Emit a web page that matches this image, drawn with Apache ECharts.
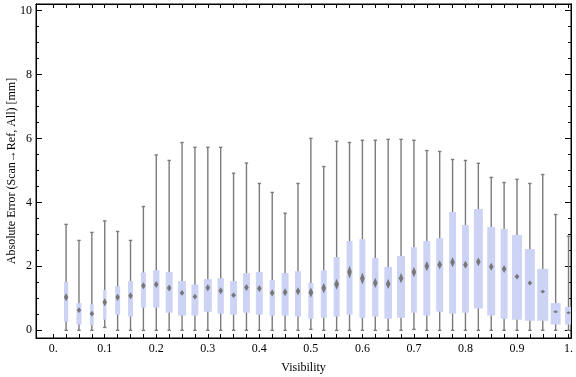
<!DOCTYPE html>
<html>
<head>
<meta charset="utf-8">
<script src="https://cdn.jsdelivr.net/npm/echarts@6/dist/echarts.min.js"></script>
<style>
  html, body { margin: 0; padding: 0; background: #fff; overflow: hidden; }
  #chart { width: 576px; height: 377px; }
</style>
</head>
<body>
<div id="chart"></div>
<script>
// box positions on the visibility axis
const visibility = [0.025, 0.05, 0.075, 0.1, 0.125, 0.15, 0.175, 0.2, 0.225, 0.25,
  0.275, 0.3, 0.325, 0.35, 0.375, 0.4, 0.425, 0.45, 0.475, 0.5,
  0.525, 0.55, 0.575, 0.6, 0.625, 0.65, 0.675, 0.7, 0.725, 0.75,
  0.775, 0.8, 0.825, 0.85, 0.875, 0.9, 0.925, 0.95, 0.975, 1.0];

const whiskerLow = [0, 0, 0, 0.09, 0, 0, 0, 0, 0, 0,
  0, 0, 0, 0, 0, 0, 0, 0, 0, 0.03,
  0, 0, 0, 0, 0, 0, 0, 0.03, 0, 0,
  0, 0, 0, 0, 0, 0, 0, 0, 0, 0];
const q1 = [0.27, 0.18, 0.16, 0.33, 0.49, 0.43, 0.71, 0.71, 0.55, 0.46,
  0.46, 0.58, 0.52, 0.49, 0.55, 0.49, 0.46, 0.46, 0.43, 0.36,
  0.39, 0.43, 0.49, 0.39, 0.43, 0.36, 0.39, 0.55, 0.46, 0.58,
  0.52, 0.55, 0.68, 0.46, 0.36, 0.33, 0.30, 0.30, 0.18, 0.18];
const median = [1.03, 0.63, 0.52, 0.88, 1.03, 1.08, 1.39, 1.43, 1.32, 1.17,
  1.05, 1.33, 1.24, 1.10, 1.34, 1.31, 1.17, 1.19, 1.22, 1.18,
  1.32, 1.44, 1.82, 1.62, 1.48, 1.45, 1.63, 1.82, 2.01, 2.05,
  2.13, 2.05, 2.14, 1.99, 1.92, 1.68, 1.48, 1.21, 0.58, 0.55];
const q3 = [1.51, 0.85, 0.82, 1.26, 1.38, 1.54, 1.81, 1.88, 1.82, 1.54,
  1.43, 1.60, 1.63, 1.54, 1.79, 1.82, 1.57, 1.79, 1.85, 1.48,
  1.88, 2.29, 2.79, 2.85, 2.26, 1.98, 2.32, 2.60, 2.79, 2.88,
  3.70, 3.29, 3.79, 3.23, 3.17, 2.98, 2.54, 1.92, 0.85, 0.73];
const whiskerHigh = [3.31, 2.81, 3.06, 3.42, 3.09, 2.81, 3.87, 5.48, 5.31, 5.87,
  5.72, 5.72, 5.72, 4.91, 5.23, 4.59, 4.31, 3.66, 4.59, 6.00,
  5.12, 5.91, 5.87, 5.94, 5.94, 5.97, 5.97, 5.94, 5.62, 5.59,
  5.34, 5.31, 5.22, 4.78, 4.62, 4.72, 4.59, 4.87, 3.62, 2.94];
// relative sample weight (box width as share of the bin)
const weight = [0.33, 0.39, 0.29, 0.26, 0.39, 0.39, 0.39, 0.49, 0.54, 0.62,
  0.54, 0.62, 0.49, 0.54, 0.54, 0.54, 0.41, 0.54, 0.46, 0.39,
  0.46, 0.46, 0.46, 0.46, 0.49, 0.59, 0.62, 0.46, 0.54, 0.54,
  0.54, 0.54, 0.70, 0.62, 0.54, 0.77, 0.77, 0.85, 0.77, 0.54];
// half height of the median diamond (mm)
const medianCI = [0.125, 0.09, 0.09, 0.125, 0.11, 0.11, 0.11, 0.11, 0.11, 0.09,
  0.09, 0.11, 0.11, 0.09, 0.11, 0.11, 0.11, 0.125, 0.125, 0.16,
  0.16, 0.17, 0.2, 0.19, 0.16, 0.16, 0.16, 0.16, 0.16, 0.14,
  0.16, 0.125, 0.14, 0.125, 0.125, 0.09, 0.08, 0.06, 0.05, 0.05];

const xLabels = [0, 0.1, 0.2, 0.3, 0.4, 0.5, 0.6, 0.7, 0.8, 0.9, 1];
const xTicks = [0].concat(visibility);
const yLabels = [0, 2, 4, 6, 8, 10];
const yMinor = [0, 0.5, 1, 1.5, 2, 2.5, 3, 3.5, 4, 4.5, 5, 5.5, 6, 6.5, 7, 7.5, 8, 8.5, 9, 9.5, 10];

const FONT = "'Liberation Serif', 'Times New Roman', serif";
const X_MIN = -0.0334, X_MAX = 1.0048;
const Y_MIN = -0.24, Y_MAX = 10.2;

const boxData = visibility.map((v, i) =>
  [v, whiskerLow[i], q1[i], median[i], q3[i], whiskerHigh[i], weight[i], medianCI[i]]);

function renderBox(params, api) {
  const x = api.value(0);
  const pLo = api.coord([x, api.value(1)]);
  const pQ1 = api.coord([x, api.value(2)]);
  const pMed = api.coord([x, api.value(3)]);
  const pQ3 = api.coord([x, api.value(4)]);
  const pHi = api.coord([x, api.value(5)]);
  const w = api.size([api.value(6) * 0.025, 0])[0];
  const dh = api.size([0, api.value(7)])[1];
  const cx = pLo[0];
  const cap = 1.7;
  const ls = { stroke: '#7b7b7b', lineWidth: 1.4 };
  return {
    type: 'group',
    children: [
      { type: 'line', shape: { x1: cx, y1: pLo[1], x2: cx, y2: pHi[1] }, style: ls },
      { type: 'line', shape: { x1: cx - cap, y1: pLo[1], x2: cx + cap, y2: pLo[1] }, style: ls },
      { type: 'line', shape: { x1: cx - cap, y1: pHi[1], x2: cx + cap, y2: pHi[1] }, style: ls },
      { type: 'rect', shape: { x: cx - w / 2, y: pQ3[1], width: w, height: pQ1[1] - pQ3[1] },
        style: { fill: '#ccd3f5' } },
      { type: 'polygon',
        shape: { points: [[cx, pMed[1] - dh], [cx + 2.3, pMed[1]], [cx, pMed[1] + dh], [cx - 2.3, pMed[1]]] },
        style: { fill: '#777777' } }
    ]
  };
}

function xAxisOf(pos, withLabels) {
  return {
    type: 'value', position: pos, min: X_MIN, max: X_MAX,
    axisLine: { show: true, onZero: false, lineStyle: { color: '#000', width: 1 } },
    axisTick: { show: true, inside: true, length: 4, customValues: xTicks,
      lineStyle: { color: '#000', width: 1 } },
    axisLabel: withLabels ? {
      show: true, customValues: xLabels, margin: 5,
      fontFamily: FONT, fontSize: 12, color: '#000',
      formatter: v => (v === 0 ? '0.' : v === 1 ? '1.' : v.toFixed(1))
    } : { show: false },
    splitLine: { show: false }
  };
}

function yAxisOf(pos, ticks, len, withLabels) {
  return {
    type: 'value', position: pos, min: Y_MIN, max: Y_MAX,
    axisLine: { show: true, onZero: false, lineStyle: { color: '#000', width: 1 } },
    axisTick: { show: true, inside: true, length: len, customValues: ticks,
      lineStyle: { color: '#000', width: 1 } },
    axisLabel: withLabels ? {
      show: true, customValues: yLabels, margin: 4,
      fontFamily: FONT, fontSize: 12, color: '#000'
    } : { show: false },
    splitLine: { show: false }
  };
}

const chart = echarts.init(document.getElementById('chart'));

const xBottom = xAxisOf('bottom', true);
xBottom.name = 'Visibility';
xBottom.nameLocation = 'middle';
xBottom.nameGap = 24;
xBottom.nameMoveOverlap = false;
xBottom.nameTextStyle = { fontFamily: FONT, fontSize: 12, color: '#000' };

const yLeft = yAxisOf('left', yLabels, 6, true);
yLeft.name = 'Absolute Error (Scan\u2192Ref, All) [mm]';
yLeft.nameLocation = 'middle';
yLeft.nameGap = 18;
yLeft.nameMoveOverlap = false;
yLeft.nameTextStyle = { fontFamily: FONT, fontSize: 12, color: '#000' };

chart.setOption({
  backgroundColor: '#fff',
  animation: false,
  grid: { left: 36, right: 5, top: 4, bottom: 39, outerBoundsMode: 'none', containLabel: false,
    show: true, borderColor: '#000', borderWidth: 1, backgroundColor: 'transparent' },
  xAxis: [xBottom, xAxisOf('top', false)],
  yAxis: [
    yLeft,
    yAxisOf('right', yLabels, 6, false),
    yAxisOf('left', yMinor, 3, false),
    yAxisOf('right', yMinor, 3, false)
  ],
  series: [{
    type: 'custom',
    xAxisIndex: 0,
    yAxisIndex: 0,
    clip: true,
    renderItem: renderBox,
    encode: { x: 0, y: [1, 2, 3, 4, 5] },
    data: boxData
  }]
});

window.addEventListener('resize', function () {
  chart.resize();
});
</script>
</body>
</html>
